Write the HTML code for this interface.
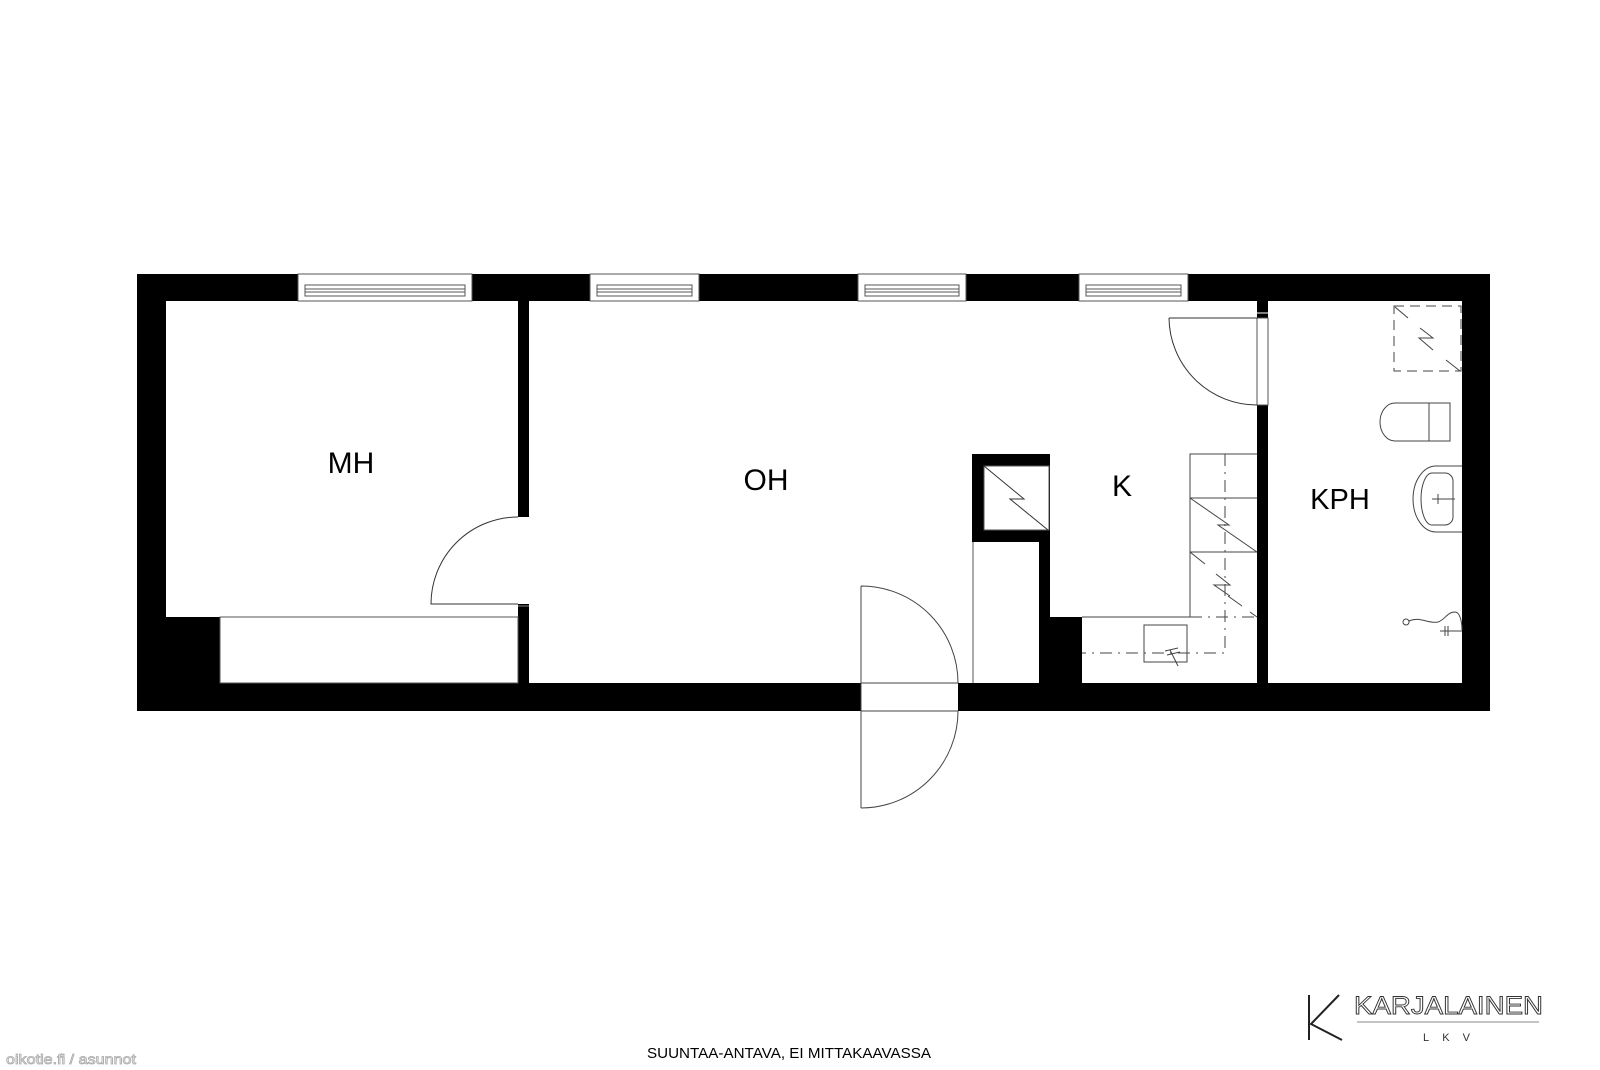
<!DOCTYPE html>
<html><head><meta charset="utf-8"><style>
html,body{margin:0;padding:0;background:#fff;}
svg{display:block;}
</style></head><body>
<svg width="1600" height="1070" viewBox="0 0 1600 1070" xmlns="http://www.w3.org/2000/svg">
<rect width="1600" height="1070" fill="#fff"/>
<rect x="137" y="274" width="1353" height="437" fill="#000"/>
<rect x="166" y="301" width="352" height="316" fill="#fff"/>
<rect x="220" y="617" width="298" height="66" fill="#fff" stroke="#555" stroke-width="1"/>
<rect x="529" y="301" width="728" height="382" fill="#fff"/>
<rect x="1268" y="301" width="194" height="382" fill="#fff"/>
<rect x="517" y="517" width="13" height="87" fill="#fff"/>
<line x1="518" y1="606" x2="529" y2="606" stroke="#888" stroke-width="1"/>
<path d="M518 517 A87 87 0 0 0 431 604 L518 604" fill="none" stroke="#333" stroke-width="1"/>
<g fill="#fff" stroke="#555" stroke-width="1">
<rect x="298" y="274" width="174" height="27"/>
<rect x="305" y="285" width="160" height="11"/>
<line x1="305" y1="289" x2="465" y2="289"/><line x1="305" y1="292" x2="465" y2="292"/>
<rect x="590" y="274" width="109" height="27"/>
<rect x="597" y="285" width="95" height="11"/>
<line x1="597" y1="289" x2="692" y2="289"/><line x1="597" y1="292" x2="692" y2="292"/>
<rect x="858" y="274" width="108" height="27"/>
<rect x="865" y="285" width="94" height="11"/>
<line x1="865" y1="289" x2="959" y2="289"/><line x1="865" y1="292" x2="959" y2="292"/>
<rect x="1079" y="274" width="109" height="27"/>
<rect x="1086" y="285" width="95" height="11"/>
<line x1="1086" y1="289" x2="1181" y2="289"/><line x1="1086" y1="292" x2="1181" y2="292"/>
</g>
<rect x="1257" y="301" width="11" height="382" fill="#000"/>
<rect x="1257" y="318" width="11" height="87" fill="#fff" stroke="#555" stroke-width="1"/>
<line x1="1257" y1="313" x2="1268" y2="313" stroke="#fff" stroke-width="1"/>
<path d="M1169 318 L1257 318 M1169 318 A88 88 0 0 0 1257 405" fill="none" stroke="#333" stroke-width="1"/>
<rect x="861" y="683" width="97" height="28" fill="#fff"/>
<g fill="none" stroke="#444" stroke-width="1">
<line x1="861" y1="683" x2="958" y2="683"/><line x1="861" y1="711" x2="958" y2="711"/>
<path d="M861 586 L861 808 M861 586 A97 97 0 0 1 958 683 M958 711 A97 97 0 0 1 861 808"/>
</g>
<rect x="972" y="454" width="78" height="88" fill="#000"/>
<rect x="984" y="466" width="65" height="64" fill="#fff" stroke="#555" stroke-width="1"/>
<path d="M984 466 L1024 499 L1010 499 L1048 530" fill="none" stroke="#333" stroke-width="1"/>
<line x1="973" y1="542" x2="973" y2="683" stroke="#555" stroke-width="1"/>
<rect x="1039" y="531" width="11" height="86" fill="#000"/>
<rect x="1039" y="617" width="43" height="66" fill="#000"/>
<g fill="none" stroke="#444" stroke-width="1">
<path d="M1190 617 L1190 454 L1257 454 M1190 498 L1257 498 M1190 552 L1257 552 M1082 617 L1190 617"/>
<path d="M1190 498 L1229 525 L1218 525 L1257 552"/>
<path d="M1190 552 L1205 564 M1216 574 L1230 585 L1214 585 L1230 596 M1228 596 L1242 606 M1250 612 L1257 617"/>
<path d="M1190 617 L1257 617" stroke-dasharray="12 6 2 6"/>
<path d="M1225 454 L1225 653 L1082 653" stroke-dasharray="12 6 2 6"/>
<rect x="1144" y="625" width="43" height="37"/>
<path d="M1170 650 L1178 666 M1165 651 L1178 648 M1167 655 L1180 652"/>
</g>
<g fill="none" stroke="#444" stroke-width="1">
<rect x="1394" y="306" width="67" height="65" stroke-dasharray="10 6"/>
<path d="M1395 307 L1408 318 M1420 328 L1433 338 L1419 338 L1433 350 M1446 360 L1460 371"/>
<path d="M1429 403 L1450 403 L1450 441 L1429 441 Z M1429 403 L1395 403 A15 19 0 0 0 1395 441 L1429 441"/>
<path d="M1462 466 L1436 466 A23 33 0 0 0 1436 532 L1462 532"/>
<path d="M1432 473 L1445 473 A8 8 0 0 1 1453 481 L1453 517 A8 8 0 0 1 1445 525 L1432 525 A11 26 0 0 1 1432 473 Z"/>
<path d="M1432 499 L1455 499 M1438 494 L1438 504"/>
<circle cx="1406" cy="622" r="3"/>
<path d="M1409 621 C1420 616 1428 624 1438 622 C1445 620 1447 612 1455 612 C1460 612 1462 622 1462 630"/>
<path d="M1440 631 L1462 631 M1445 626 L1445 636 M1448 626 L1448 636"/>
</g>
<g font-family="'Liberation Sans', sans-serif" fill="#000" text-anchor="middle">
<text x="351" y="473" font-size="30">MH</text>
<text x="766" y="490" font-size="30">OH</text>
<text x="1122" y="496" font-size="30">K</text>
<text x="1340" y="509" font-size="29">KPH</text>
<text x="789" y="1058" font-size="15" textLength="284" lengthAdjust="spacingAndGlyphs">SUUNTAA-ANTAVA, EI MITTAKAAVASSA</text>
</g>
<text x="6" y="1064" font-family="'Liberation Sans', sans-serif" font-size="14" fill="#fff" stroke="#aaa" stroke-width="0.8" textLength="130" lengthAdjust="spacingAndGlyphs">oikotie.fi / asunnot</text>
<path d="M1309 995 L1309 1040 M1339 995 L1311 1024 L1342 1040" fill="none" stroke="#222" stroke-width="2"/>
<text x="1354" y="1014" font-family="'Liberation Sans', sans-serif" font-size="25" fill="#fff" stroke="#333" stroke-width="0.9" textLength="189" lengthAdjust="spacingAndGlyphs">KARJALAINEN</text>
<line x1="1357" y1="1022" x2="1539" y2="1022" stroke="#888" stroke-width="1"/>
<text x="1423" y="1041" font-family="'Liberation Sans', sans-serif" font-size="11" fill="#333" textLength="47" lengthAdjust="spacing">LKV</text>
</svg>
</body></html>
